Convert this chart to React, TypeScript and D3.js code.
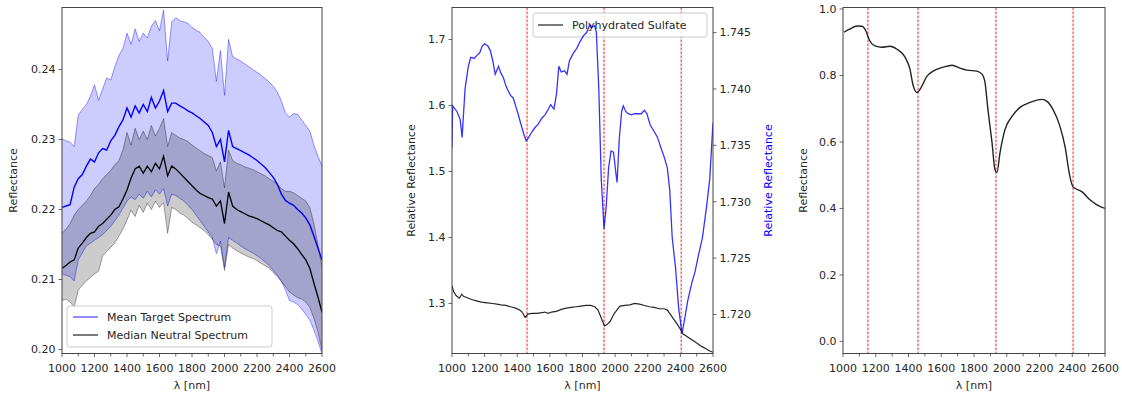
import React from "react";
import * as d3 from "d3";

// ---------- DATA ----------
const GRID = [1000,1025,1050,1075,1100,1125,1150,1175,1200,1225,1250,1275,1300,1325,1350,1375,1400,1425,1450,1475,1500,1525,1550,1575,1600,1625,1650,1675,1700,1725,1750,1775,1800,1825,1850,1875,1900,1925,1950,1975,2000,2025,2050,2075,2100,2125,2150,2175,2200,2225,2250,2275,2300,2325,2350,2375,2400,2425,2450,2475,2500,2525,2550,2575,2600];

const TARGET_UPPER = [0.2301,0.2298,0.2296,0.2290,0.2335,0.2343,0.2350,0.2362,0.2378,0.2356,0.2372,0.2388,0.2385,0.2404,0.2420,0.2430,0.2452,0.2436,0.2458,0.2440,0.2452,0.2445,0.2462,0.2470,0.2455,0.2485,0.2412,0.2468,0.2474,0.2470,0.2468,0.2466,0.2460,0.2456,0.2453,0.2446,0.2440,0.2430,0.2383,0.2427,0.2363,0.2443,0.2418,0.2415,0.2412,0.2408,0.2404,0.2400,0.2396,0.2392,0.2387,0.2382,0.2376,0.2368,0.2355,0.2338,0.2332,0.2337,0.2336,0.2328,0.2320,0.2312,0.2292,0.2276,0.2262];

const TARGET_MEAN = [0.2203,0.2205,0.2207,0.2232,0.2244,0.2250,0.2262,0.2272,0.2268,0.2281,0.2287,0.2285,0.2298,0.2306,0.2318,0.2328,0.2345,0.2332,0.2348,0.2338,0.2350,0.2340,0.2360,0.2345,0.2355,0.2370,0.2340,0.2352,0.2352,0.2348,0.2345,0.2341,0.2338,0.2334,0.2330,0.2325,0.2320,0.2310,0.2290,0.2300,0.2268,0.2313,0.2290,0.2287,0.2284,0.2281,0.2278,0.2274,0.2270,0.2265,0.2260,0.2253,0.2246,0.2236,0.2222,0.2213,0.2209,0.2206,0.2200,0.2195,0.2188,0.2178,0.2162,0.2145,0.2128];

const TARGET_LOWER = [0.2108,0.2106,0.2104,0.2098,0.2128,0.2138,0.2148,0.2152,0.2156,0.2160,0.2164,0.2170,0.2176,0.2184,0.2192,0.2202,0.2212,0.2218,0.2214,0.2222,0.2216,0.2226,0.2218,0.2228,0.2222,0.2230,0.2205,0.2222,0.2220,0.2216,0.2212,0.2206,0.2200,0.2192,0.2184,0.2176,0.2168,0.2160,0.2137,0.2155,0.2117,0.2160,0.2156,0.2152,0.2148,0.2144,0.2141,0.2138,0.2134,0.2130,0.2125,0.2120,0.2113,0.2106,0.2098,0.2085,0.2070,0.2068,0.2064,0.2058,0.2050,0.2042,0.2028,0.2012,0.1994];

const NEUTRAL_UPPER = [0.2166,0.2172,0.2180,0.2192,0.2200,0.2206,0.2212,0.2220,0.2230,0.2236,0.2244,0.2250,0.2256,0.2264,0.2270,0.2285,0.2310,0.2292,0.2316,0.2300,0.2312,0.2300,0.2320,0.2305,0.2316,0.2330,0.2290,0.2310,0.2306,0.2302,0.2300,0.2297,0.2292,0.2288,0.2284,0.2280,0.2277,0.2274,0.2255,0.2268,0.2231,0.2285,0.2270,0.2266,0.2264,0.2261,0.2259,0.2257,0.2254,0.2251,0.2248,0.2244,0.2240,0.2236,0.2230,0.2226,0.2226,0.2224,0.2220,0.2216,0.2212,0.2203,0.2180,0.2150,0.2117];

const NEUTRAL_MEDIAN = [0.2116,0.2120,0.2125,0.2128,0.2145,0.2152,0.2160,0.2166,0.2168,0.2176,0.2180,0.2186,0.2192,0.2200,0.2204,0.2215,0.2228,0.2245,0.2258,0.2262,0.2252,0.2262,0.2254,0.2266,0.2258,0.2276,0.2248,0.2262,0.2258,0.2252,0.2246,0.2240,0.2234,0.2228,0.2223,0.2220,0.2217,0.2215,0.2205,0.2212,0.2180,0.2225,0.2205,0.2200,0.2197,0.2194,0.2191,0.2189,0.2187,0.2184,0.2181,0.2178,0.2174,0.2170,0.2168,0.2162,0.2156,0.2151,0.2144,0.2136,0.2128,0.2116,0.2095,0.2075,0.2053];

const NEUTRAL_LOWER = [0.2070,0.2072,0.2068,0.2060,0.2085,0.2092,0.2098,0.2103,0.2108,0.2112,0.2134,0.2140,0.2146,0.2152,0.2162,0.2172,0.2185,0.2199,0.2190,0.2206,0.2196,0.2209,0.2200,0.2212,0.2203,0.2210,0.2166,0.2203,0.2200,0.2195,0.2192,0.2187,0.2182,0.2178,0.2174,0.2170,0.2164,0.2158,0.2150,0.2148,0.2113,0.2150,0.2145,0.2141,0.2138,0.2135,0.2132,0.2130,0.2127,0.2123,0.2120,0.2116,0.2110,0.2104,0.2097,0.2090,0.2082,0.2078,0.2074,0.2072,0.2068,0.2060,0.2045,0.2025,0.1999];

const SULFATE_BLUE_WL = [1000,1004,1030,1050,1062,1080,1100,1115,1135,1155,1170,1185,1200,1220,1235,1250,1265,1285,1300,1315,1330,1345,1360,1375,1390,1405,1420,1440,1455,1470,1490,1510,1530,1550,1570,1590,1605,1625,1640,1655,1670,1690,1705,1720,1745,1765,1785,1805,1825,1845,1860,1875,1885,1900,1915,1932,1945,1960,1975,1990,2005,2012,2025,2040,2050,2065,2080,2100,2120,2140,2160,2180,2195,2215,2240,2260,2280,2300,2320,2335,2350,2370,2390,2410,2425,2445,2470,2490,2510,2535,2560,2580,2600];
const SULFATE_BLUE_VAL = [1.7348,1.7385,1.7380,1.7373,1.7357,1.7400,1.7420,1.7428,1.7427,1.7430,1.7432,1.7438,1.7440,1.7438,1.7434,1.7425,1.7413,1.7420,1.7414,1.7410,1.7403,1.7398,1.7394,1.7392,1.7385,1.7378,1.7370,1.7360,1.7354,1.7357,1.7362,1.7366,1.7369,1.7374,1.7377,1.7382,1.7386,1.7382,1.7395,1.7420,1.7415,1.7416,1.7413,1.7425,1.7432,1.7436,1.7442,1.7447,1.7450,1.7457,1.7455,1.7456,1.7450,1.7400,1.7320,1.7276,1.7295,1.7330,1.7345,1.7344,1.7325,1.7317,1.7355,1.7380,1.7385,1.7380,1.7378,1.7377,1.7378,1.7378,1.7378,1.7381,1.7378,1.7368,1.7362,1.7357,1.7348,1.7340,1.7330,1.7310,1.7268,1.7242,1.7205,1.7183,1.7195,1.7212,1.7228,1.7238,1.7252,1.7268,1.7295,1.7320,1.7370];

const SULFATE_BLACK_WL = [1000,1010,1025,1045,1060,1070,1090,1120,1150,1180,1215,1250,1275,1300,1330,1360,1390,1415,1430,1448,1465,1490,1520,1550,1570,1590,1610,1640,1670,1700,1730,1760,1790,1820,1850,1875,1895,1915,1935,1950,1970,1990,2010,2030,2060,2090,2120,2150,2180,2210,2240,2270,2300,2320,2340,2360,2380,2400,2415,2440,2470,2500,2530,2560,2580,2600];
const SULFATE_BLACK_VAL = [1.327,1.318,1.312,1.308,1.314,1.311,1.309,1.306,1.304,1.302,1.301,1.300,1.299,1.298,1.297,1.295,1.293,1.290,1.287,1.279,1.284,1.285,1.285,1.286,1.287,1.285,1.287,1.288,1.291,1.293,1.294,1.295,1.296,1.297,1.297,1.295,1.290,1.278,1.266,1.268,1.273,1.283,1.290,1.296,1.297,1.298,1.300,1.299,1.297,1.295,1.294,1.292,1.292,1.290,1.283,1.276,1.269,1.261,1.254,1.250,1.245,1.240,1.235,1.231,1.228,1.226];

const LIBRARY_WL = [1006,1043,1085,1116,1140,1159,1195,1238,1287,1330,1379,1409,1427,1452,1470,1513,1550,1611,1666,1715,1757,1818,1849,1867,1885,1910,1928,1940,1959,1989,2032,2081,2142,2215,2246,2282,2325,2356,2386,2405,2460,2508,2551,2600];
const LIBRARY_VAL = [0.930,0.940,0.949,0.948,0.934,0.909,0.889,0.885,0.888,0.879,0.855,0.819,0.773,0.749,0.758,0.798,0.813,0.825,0.831,0.822,0.816,0.813,0.804,0.779,0.698,0.598,0.517,0.508,0.568,0.637,0.677,0.704,0.719,0.728,0.722,0.698,0.647,0.586,0.495,0.465,0.450,0.426,0.411,0.400];

const MID_BANDS = [1460, 1932, 2405];
const RIGHT_BANDS = [1152, 1458, 1934, 2405];

const X_TICKS = [1000, 1200, 1400, 1600, 1800, 2000, 2200, 2400, 2600];
const X_MINOR = [1100, 1300, 1500, 1700, 1900, 2100, 2300, 2500];
const LEFT_Y_TICKS = [0.20, 0.21, 0.22, 0.23, 0.24];
const MID_Y_TICKS = [1.3, 1.4, 1.5, 1.6, 1.7];
const MID_Y2_TICKS = [1.720, 1.725, 1.730, 1.735, 1.740, 1.745];
const RIGHT_Y_TICKS = [0.0, 0.2, 0.4, 0.6, 0.8, 1.0];

// ---------- LAYOUT ----------
const W = 1122;
const H = 396;
const TOP = 7.5;
const BOTTOM = 353.5;
const FONT = "DejaVu Sans, sans-serif";
const TXT = "#262626";
const SPINE = "#444";

type Pt = [number, number];

function XAxis({ x, y0 }: { x: d3.ScaleLinear<number, number>; y0: number }) {
  return (
    <g>
      {X_MINOR.map((t) => (
        <line key={"m" + t} x1={x(t)} x2={x(t)} y1={y0} y2={y0 + 3} stroke={SPINE} strokeWidth={0.8} />
      ))}
      {X_TICKS.map((t) => (
        <g key={t}>
          <line x1={x(t)} x2={x(t)} y1={y0} y2={y0 + 3.5} stroke={SPINE} strokeWidth={0.8} />
          <text x={x(t)} y={y0 + 18} textAnchor="middle" fontSize={11} fill={TXT} fontFamily={FONT}>
            {t}
          </text>
        </g>
      ))}
      <text x={(x.range()[0] + x.range()[1]) / 2} y={389} textAnchor="middle" fontSize={11} fill={TXT} fontFamily={FONT}>
        λ [nm]
      </text>
    </g>
  );
}

function YAxis({ y, x0, ticks, fmt, side = "left" }: { y: d3.ScaleLinear<number, number>; x0: number; ticks: number[]; fmt: (v: number) => string; side?: string }) {
  const dir = side === "left" ? -1 : 1;
  return (
    <g>
      {ticks.map((t) => (
        <g key={t}>
          <line x1={x0} x2={x0 + dir * 3.5} y1={y(t)} y2={y(t)} stroke={SPINE} strokeWidth={0.8} />
          <text x={x0 + dir * 6.5} y={y(t)} dy="0.36em" textAnchor={side === "left" ? "end" : "start"} fontSize={11} fill={TXT} fontFamily={FONT}>
            {fmt(t)}
          </text>
        </g>
      ))}
    </g>
  );
}

function YLabel({ x, text, color = TXT }: { x: number; text: string; color?: string }) {
  const cy = (TOP + BOTTOM) / 2;
  return (
    <text transform={`translate(${x},${cy}) rotate(-90)`} textAnchor="middle" dy="0.36em" fontSize={11} fill={color} fontFamily={FONT}>
      {text}
    </text>
  );
}

function Frame({ x0, x1 }: { x0: number; x1: number }) {
  return <rect x={x0} y={TOP} width={x1 - x0} height={BOTTOM - TOP} fill="none" stroke={SPINE} strokeWidth={1} />;
}

function bandPath(x: d3.ScaleLinear<number, number>, y: d3.ScaleLinear<number, number>, upper: number[], lower: number[]) {
  const area = d3
    .area<number>()
    .x((_, i) => x(GRID[i]))
    .y0((_, i) => y(lower[i]))
    .y1((d) => y(d));
  return area(upper) as string;
}

function Panel1() {
  const x0 = 62, x1 = 322;
  const x = d3.scaleLinear().domain([1000, 2600]).range([x0, x1]);
  const y = d3.scaleLinear().domain([0.19943, 0.24886]).range([BOTTOM, TOP]);
  const line = d3.line<number>().x((_, i) => x(GRID[i])).y((d) => y(d));
  return (
    <g>
      <defs>
        <clipPath id="c1">
          <rect x={x0} y={TOP} width={x1 - x0} height={BOTTOM - TOP} />
        </clipPath>
      </defs>
      <g clipPath="url(#c1)">
        <path d={bandPath(x, y, TARGET_UPPER, TARGET_LOWER)} fill="blue" fillOpacity={0.2} />
        <path d={line(TARGET_UPPER) as string} fill="none" stroke="blue" strokeOpacity={0.45} strokeWidth={0.9} />
        <path d={line(TARGET_LOWER) as string} fill="none" stroke="blue" strokeOpacity={0.45} strokeWidth={0.9} />
        <path d={bandPath(x, y, NEUTRAL_UPPER, NEUTRAL_LOWER)} fill="black" fillOpacity={0.2} />
        <path d={line(NEUTRAL_UPPER) as string} fill="none" stroke="black" strokeOpacity={0.4} strokeWidth={0.9} />
        <path d={line(NEUTRAL_LOWER) as string} fill="none" stroke="black" strokeOpacity={0.4} strokeWidth={0.9} />
        <path d={line(TARGET_MEAN) as string} fill="none" stroke="blue" strokeWidth={1.4} />
        <path d={line(NEUTRAL_MEDIAN) as string} fill="none" stroke="black" strokeWidth={1.3} />
      </g>
      <Frame x0={x0} x1={x1} />
      <XAxis x={x} y0={BOTTOM} />
      <YAxis y={y} x0={x0} ticks={LEFT_Y_TICKS} fmt={d3.format(".2f")} />
      <YLabel x={13} text="Reflectance" />
      <g>
        <rect x={67} y={306} width={205} height={41} rx={3} fill="white" fillOpacity={0.8} stroke="#ccc" strokeWidth={1} />
        <line x1={73} x2={98} y1={317} y2={317} stroke="blue" strokeOpacity={0.6} strokeWidth={1.5} />
        <text x={107} y={317} dy="0.36em" fontSize={11} fill={TXT} fontFamily={FONT}>Mean Target Spectrum</text>
        <line x1={73} x2={98} y1={335} y2={335} stroke="black" strokeOpacity={0.7} strokeWidth={1.5} />
        <text x={107} y={335} dy="0.36em" fontSize={11} fill={TXT} fontFamily={FONT}>Median Neutral Spectrum</text>
      </g>
    </g>
  );
}

function Panel2() {
  const x0 = 452, x1 = 713;
  const x = d3.scaleLinear().domain([1000, 2600]).range([x0, x1]);
  const yL = d3.scaleLinear().domain([1.2242, 1.7485]).range([BOTTOM, TOP]);
  const yR = d3.scaleLinear().domain([1.71654, 1.74722]).range([BOTTOM, TOP]);
  const blackPts: Pt[] = SULFATE_BLACK_WL.map((w, i) => [w, SULFATE_BLACK_VAL[i]]);
  const bluePts: Pt[] = SULFATE_BLUE_WL.map((w, i) => [w, SULFATE_BLUE_VAL[i]]);
  const lineL = d3.line<Pt>().x((d) => x(d[0])).y((d) => yL(d[1]));
  const lineR = d3.line<Pt>().x((d) => x(d[0])).y((d) => yR(d[1]));
  return (
    <g>
      <defs>
        <clipPath id="c2">
          <rect x={x0} y={TOP} width={x1 - x0} height={BOTTOM - TOP} />
        </clipPath>
      </defs>
      <g clipPath="url(#c2)">
        {MID_BANDS.map((b) => (
          <line key={b} x1={x(b)} x2={x(b)} y1={TOP} y2={BOTTOM} stroke="red" strokeOpacity={0.7} strokeWidth={1.3} strokeDasharray="2.5,1.5" />
        ))}
        <path d={lineL(blackPts) as string} fill="none" stroke="black" strokeOpacity={0.85} strokeWidth={1.2} />
      </g>
      <g>
        <rect x={533} y={13} width={174} height={24} rx={3} fill="white" fillOpacity={0.8} stroke="#ccc" strokeWidth={1} />
        <line x1={538} x2={563} y1={25} y2={25} stroke="black" strokeOpacity={0.7} strokeWidth={1.5} />
        <text x={572} y={25} dy="0.36em" fontSize={11} fill={TXT} fontFamily={FONT}>Polyhydrated Sulfate</text>
      </g>
      <g clipPath="url(#c2)">
        <path d={lineR(bluePts) as string} fill="none" stroke="blue" strokeOpacity={0.8} strokeWidth={1.3} />
      </g>
      <Frame x0={x0} x1={x1} />
      <XAxis x={x} y0={BOTTOM} />
      <YAxis y={yL} x0={x0} ticks={MID_Y_TICKS} fmt={d3.format(".1f")} />
      <YAxis y={yR} x0={x1} ticks={MID_Y2_TICKS} fmt={d3.format(".3f")} side="right" />
      <YLabel x={411} text="Relative Reflectance" />
      <YLabel x={768} text="Relative Reflectance" color="blue" />
    </g>
  );
}

function Panel3() {
  const x0 = 843, x1 = 1105;
  const x = d3.scaleLinear().domain([1000, 2600]).range([x0, x1]);
  const y = d3.scaleLinear().domain([-0.0363, 1.0045]).range([BOTTOM, TOP]);
  const pts: Pt[] = LIBRARY_WL.map((w, i) => [w, LIBRARY_VAL[i]]);
  const line = d3.line<Pt>().x((d) => x(d[0])).y((d) => y(d[1])).curve(d3.curveMonotoneX);
  return (
    <g>
      <defs>
        <clipPath id="c3">
          <rect x={x0} y={TOP} width={x1 - x0} height={BOTTOM - TOP} />
        </clipPath>
      </defs>
      <g clipPath="url(#c3)">
        {RIGHT_BANDS.map((b) => (
          <line key={b} x1={x(b)} x2={x(b)} y1={TOP} y2={BOTTOM} stroke="red" strokeOpacity={0.7} strokeWidth={1.3} strokeDasharray="2.5,1.5" />
        ))}
        <path d={line(pts) as string} fill="none" stroke="#222" strokeWidth={1.4} />
      </g>
      <Frame x0={x0} x1={x1} />
      <XAxis x={x} y0={BOTTOM} />
      <YAxis y={y} x0={x0} ticks={RIGHT_Y_TICKS} fmt={d3.format(".1f")} />
      <YLabel x={803} text="Reflectance" />
    </g>
  );
}

export default function App() {
  return (
    <svg width={W} height={H} style={{ position: "absolute", left: 0, top: 0, background: "white" }}>
      <rect x={0} y={0} width={W} height={H} fill="white" />
      <Panel1 />
      <Panel2 />
      <Panel3 />
    </svg>
  );
}
